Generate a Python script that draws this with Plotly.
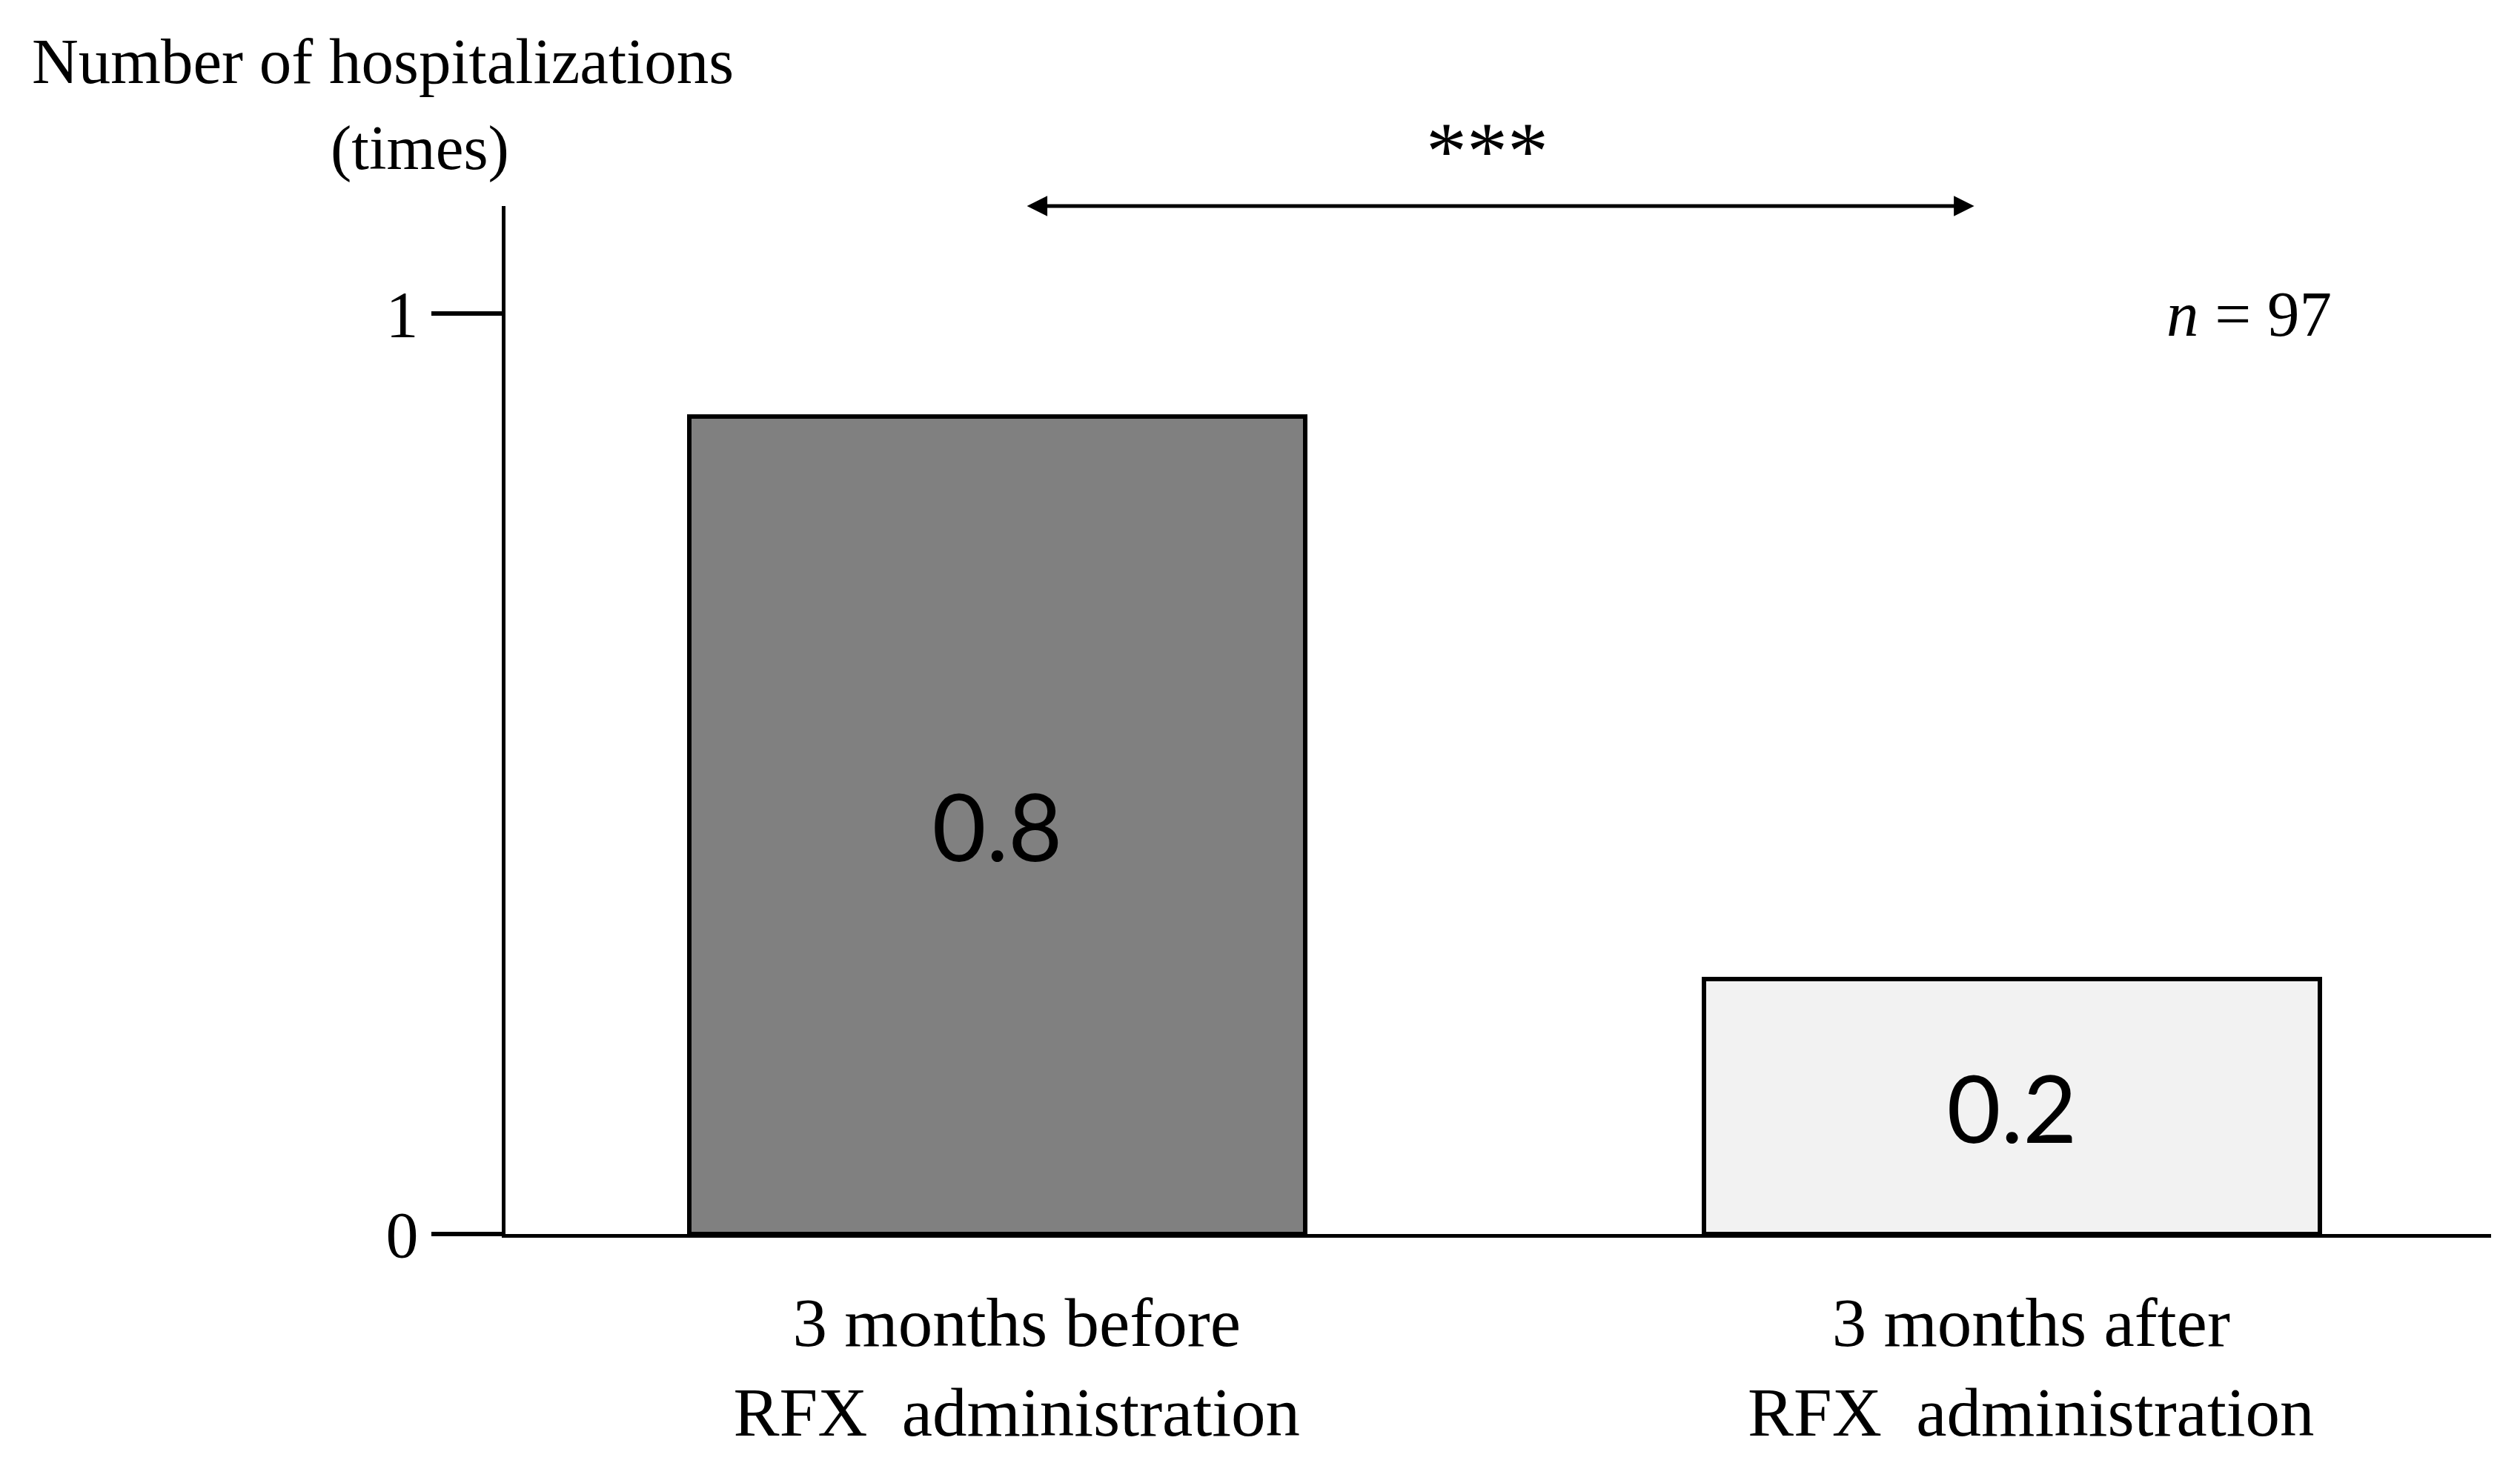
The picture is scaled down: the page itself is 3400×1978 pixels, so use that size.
import plotly.graph_objects as go

# ---- data ----
categories = ["3 months before<br>RFX  administration", "3 months after<br>RFX  administration"]
bar_values = [0.888, 0.277]
bar_labels = ["0.8", "0.2"]
bar_colors = ["#808080", "#f2f2f2"]
y_tick_vals = [0, 1]
y_tick_text = ["0", "1"]

W, H = 3400, 1978
L, R, T, B = 682, 39, 278, 313
plot_w = W - L - R
plot_h = H - T - B

def px(x):
    return (x - L) / plot_w

def py(y):
    return (H - B - y) / plot_h

serif = "Liberation Serif"
x_pos = [0, 1]

fig = go.Figure()
fig.add_trace(go.Bar(
    x=x_pos, y=bar_values,
    width=0.607,
    marker=dict(color=bar_colors, line=dict(color="black", width=6)),
    text=bar_labels,
    textposition="inside",
    insidetextanchor="middle",
    textfont=dict(family="Lato", size=126, color="black"),
    showlegend=False,
))

fig.update_layout(
    width=W, height=H,
    margin=dict(l=L, r=R, t=T, b=B),
    plot_bgcolor="white", paper_bgcolor="white",
    font=dict(family=serif, color="black", size=84),
    xaxis=dict(
        range=[-0.485, 1.4726],
        tickvals=x_pos, ticktext=categories,
        showline=True, linecolor="black", linewidth=5,
        ticks="", showgrid=False, zeroline=False,
        tickfont=dict(family=serif, size=93),
        ticklabelstandoff=34,
        ticklabelshift=26,
    ),
    yaxis=dict(
        range=[0, 1.1167],
        tickvals=y_tick_vals, ticktext=y_tick_text,
        showline=True, linecolor="black", linewidth=5,
        ticks="outside", ticklen=95, tickwidth=6, tickcolor="black",
        showgrid=False, zeroline=False,
        tickfont=dict(family=serif, size=88),
    ),
    bargap=0,
)

annotations = [
    dict(text="Number of hospitalizations", x=px(516), y=py(82), xref="paper", yref="paper",
         showarrow=False, font=dict(size=87), xanchor="center", yanchor="middle"),
    dict(text="(times)", x=px(566), y=py(200), xref="paper", yref="paper",
         showarrow=False, font=dict(size=85), xanchor="center", yanchor="middle"),
    dict(text="***", x=px(2006), y=py(204), xref="paper", yref="paper",
         showarrow=False, font=dict(size=110), xanchor="center", yanchor="middle"),
    dict(text="<i>n</i> = 97", x=px(3034), y=py(423), xref="paper", yref="paper",
         showarrow=False, font=dict(size=87), xanchor="center", yanchor="middle"),
    dict(text="", x=0.963, y=1.1167, ax=0.028, ay=1.1167,
         xref="x", yref="y", axref="x", ayref="y",
         showarrow=True, arrowside="end+start", arrowhead=2, arrowsize=1.1,
         arrowwidth=5, arrowcolor="black", standoff=0, startstandoff=0),
]
fig.update_layout(annotations=annotations)

fig.write_html(
    "out.html",
    config={"displayModeBar": False},
    post_script="document.body.style.margin='0';document.body.style.overflow='hidden';",
)
